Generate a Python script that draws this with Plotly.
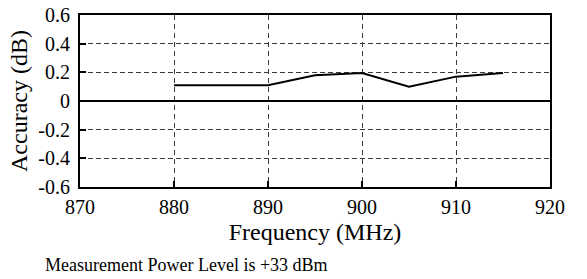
import plotly.graph_objects as go

freq_mhz = [880, 890, 895, 900, 905, 910, 915]
accuracy_db = [0.11, 0.11, 0.18, 0.195, 0.10, 0.17, 0.195]

x_ticks = [870, 880, 890, 900, 910, 920]
y_ticks = [-0.6, -0.4, -0.2, 0, 0.2, 0.4, 0.6]
y_tick_labels = ["-0.6", "-0.4", "-0.2", "0", "0.2", "0.4", "0.6"]

FONT = "Liberation Serif, Times New Roman, serif"
GRID = "#3a3a3a"

fig = go.Figure()
fig.add_trace(go.Scatter(x=freq_mhz, y=accuracy_db, mode="lines",
                         line=dict(color="black", width=2), showlegend=False))

fig.update_layout(
    width=587, height=279,
    margin=dict(l=80, r=37, t=15, b=92, autoexpand=False),
    paper_bgcolor="white", plot_bgcolor="white",
    font=dict(family=FONT, color="black", size=18),
    xaxis=dict(range=[870, 920], tickvals=x_ticks, ticktext=[str(v) for v in x_ticks],
               automargin=False,
               showgrid=True, gridcolor=GRID, griddash="5px,4px", gridwidth=1,
               showline=True, linecolor="black", linewidth=2, mirror=True,
               ticks="inside", ticklen=6, tickwidth=2, tickcolor="black",
               zeroline=False, ticklabelstandoff=1,
               tickfont=dict(family=FONT, size=20),
               title=dict(text="Frequency (MHz)", font=dict(family=FONT, size=24), standoff=6)),
    yaxis=dict(range=[-0.6, 0.6], tickvals=y_ticks, ticktext=y_tick_labels,
               automargin=False,
               showgrid=True, gridcolor=GRID, griddash="5px,3px", gridwidth=1,
               showline=True, linecolor="black", linewidth=2, mirror=True,
               ticks="inside", ticklen=6, tickwidth=2, tickcolor="black",
               zeroline=True, zerolinecolor="black", zerolinewidth=2,
               ticklabelstandoff=4,
               tickfont=dict(family=FONT, size=20),
               title=dict(text="Accuracy (dB)", font=dict(family=FONT, size=24), standoff=4)),
    annotations=[dict(text="Measurement Power Level is +33 dBm", xref="paper", yref="paper",
                      x=-0.078, y=-0.455, xanchor="left", yanchor="middle", showarrow=False,
                      font=dict(family=FONT, size=18))],
)

fig.write_html("out.html", config={"displayModeBar": False},
               post_script="document.body.style.margin='0';document.body.style.padding='0';"
                           "document.documentElement.style.overflow='hidden';")
